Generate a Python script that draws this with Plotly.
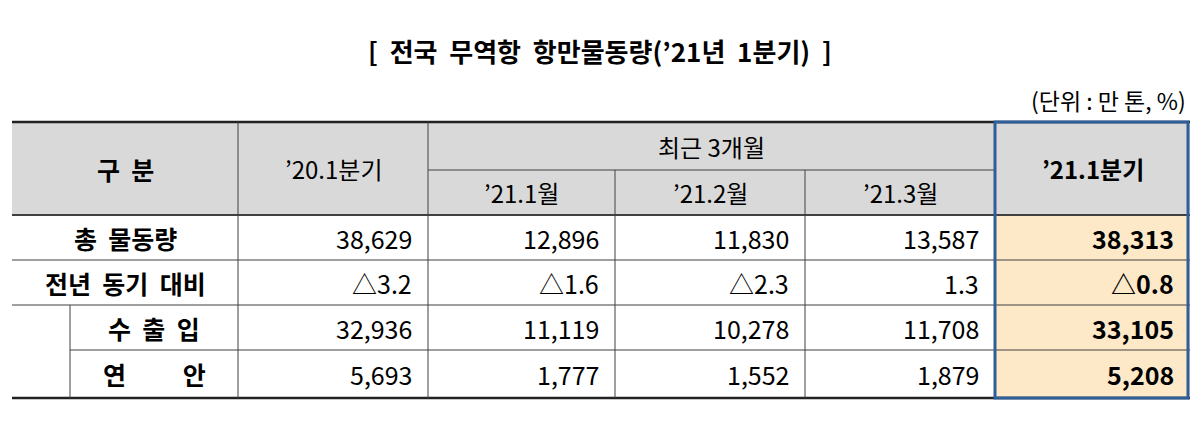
import plotly.graph_objects as go

title = "[  전국  무역항  항만물동량(’21년  1분기)  ]"
unit = "(단위 : 만 톤, %)"
row_labels = ["총  물동량", "전년  동기  대비", "수  출  입", "연          안"]
col_headers = ["’20.1분기", "’21.1월", "’21.2월", "’21.3월", "’21.1분기"]
group_header = "최근 3개월"
values = [
    ["38,629", "12,896", "11,830", "13,587", "38,313"],
    ["△3.2", "△1.6", "△2.3", "1.3", "△0.8"],
    ["32,936", "11,119", "10,278", "11,708", "33,105"],
    ["5,693", "1,777", "1,552", "1,879", "5,208"],
]

# layout geometry (pixel-like axis units)
xe = [12, 238, 428, 615, 805, 995, 1190]
ye = [122, 170, 215, 260, 305, 350, 398]
indent = 70
FONT = "Noto Sans CJK KR"

fig = go.Figure()
shapes = []
ann = []

def rect(x0, y0, x1, y1, fill):
    shapes.append(dict(type="rect", xref="x", yref="y", x0=x0, x1=x1, y0=y0, y1=y1,
                       fillcolor=fill, line=dict(width=0), layer="below"))

def line(x0, y0, x1, y1, w=1, c="#404040"):
    shapes.append(dict(type="line", xref="x", yref="y", x0=x0, x1=x1, y0=y0, y1=y1,
                       line=dict(color=c, width=w)))

def text(x, y, s, size=24, anchor="center", bold=False):
    ann.append(dict(x=x, y=y, xref="x", yref="y", text=f"<b>{s}</b>" if bold else s,
                    showarrow=False, xanchor=anchor, yanchor="middle",
                    font=dict(family=FONT, size=size, color="black")))

rect(xe[0], ye[0], xe[6], ye[2], "#d9d9d9")
rect(xe[5], ye[2], xe[6], ye[6], "#fde8c8")

# horizontal lines
line(xe[0], ye[0], xe[6], ye[0], 2.5, "#222")
line(xe[2], ye[1], xe[5], ye[1])
line(xe[0], ye[2], xe[6], ye[2], 2)
line(xe[0], ye[3], xe[6], ye[3])
line(xe[0], ye[4], xe[6], ye[4])
line(indent, ye[5], xe[6], ye[5])
line(xe[0], ye[6], xe[6], ye[6], 2.5, "#222")
# vertical lines
for x in xe[1:6]:
    y_top = ye[1] if x in (xe[3], xe[4]) else ye[0]
    line(x, y_top, x, ye[6])
line(indent, ye[4], indent, ye[6])
# highlight box
shapes.append(dict(type="rect", xref="x", yref="y", x0=xe[5], x1=xe[6] - 2, y0=ye[0], y1=ye[6],
                   line=dict(color="#2f5f98", width=3)))

# header text
text((xe[0] + xe[1]) / 2, (ye[0] + ye[2]) / 2, "구  분", 25, bold=True)
text((xe[1] + xe[2]) / 2, (ye[0] + ye[2]) / 2, col_headers[0], 24)
text((xe[2] + xe[5]) / 2, (ye[0] + ye[1]) / 2, group_header, 24)
for i in range(1, 4):
    text((xe[i + 1] + xe[i + 2]) / 2, (ye[1] + ye[2]) / 2, col_headers[i], 24)
text((xe[5] + xe[6]) / 2, (ye[0] + ye[2]) / 2, col_headers[4], 24, bold=True)

# body
for r, lab in enumerate(row_labels):
    yc = (ye[r + 2] + ye[r + 3]) / 2
    xc = (xe[0] + xe[1]) / 2 if r < 2 else (indent + xe[1]) / 2
    text(xc, yc, lab, 25, bold=True)
    for c, v in enumerate(values[r]):
        text(xe[c + 2] - 14, yc, v, 25, anchor="right", bold=(c == 4))

text(600, 50, title, 26, bold=True)
text(1188, 100, unit, 23, anchor="right")

# the page body adds an 8px offset, so the axes start at 8
fig.update_layout(
    width=1199, height=423, margin=dict(l=0, r=0, t=0, b=0),
    plot_bgcolor="white", paper_bgcolor="white",
    xaxis=dict(range=[8, 1207], visible=False, fixedrange=True),
    yaxis=dict(range=[431, 8], visible=False, fixedrange=True),
    shapes=shapes, annotations=ann, showlegend=False,
)
fig.write_html("out.html")
